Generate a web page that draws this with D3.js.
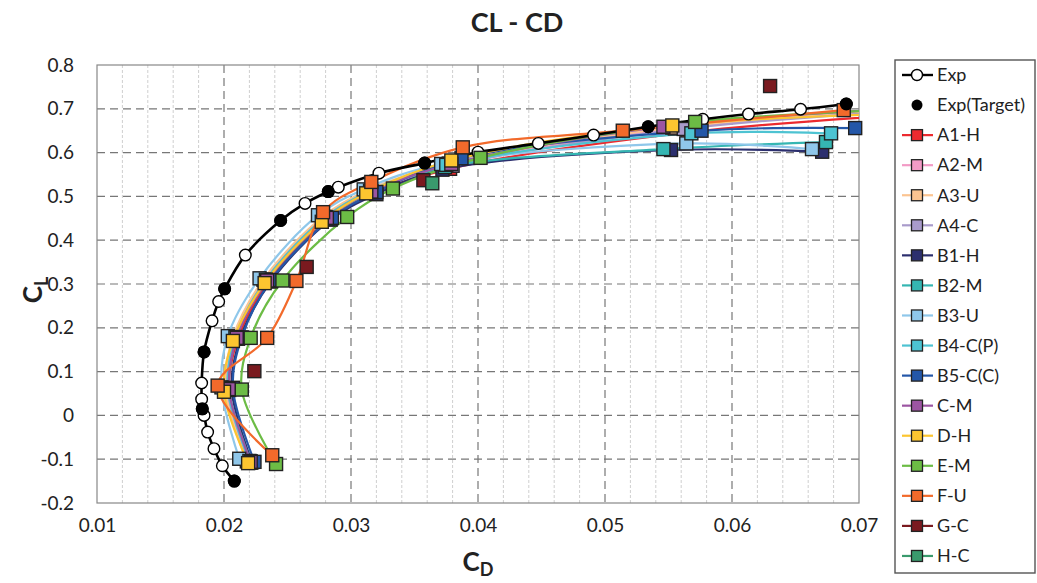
<!DOCTYPE html>
<html>
<head>
<meta charset="utf-8">
<script src="https://cdn.jsdelivr.net/npm/d3@7"></script>
<style>
  body { margin: 0; background: #fff; }
  svg { font-family: Lato, "Open Sans", sans-serif; }
</style>
</head>
<body>
<svg id="chart" width="1037" height="583"></svg>
<script>
// axis ticks
const xTicks = [0.01, 0.02, 0.03, 0.04, 0.05, 0.06, 0.07];
const yTicks = [-0.2, -0.1, 0, 0.1, 0.2, 0.3, 0.4, 0.5, 0.6, 0.7, 0.8];

// experiment (cd, cl)
const expPts = [
  [0.02081, -0.150], [0.01987, -0.115], [0.01921, -0.076], [0.01871, -0.038],
  [0.01843, 0.000], [0.01829, 0.015], [0.01824, 0.037], [0.01824, 0.074],
  [0.01843, 0.145], [0.01906, 0.216], [0.01958, 0.260], [0.02005, 0.289],
  [0.02168, 0.366], [0.02446, 0.445], [0.02638, 0.484], [0.02821, 0.511],
  [0.0290, 0.521], [0.0322, 0.553], [0.0358, 0.576], [0.0400, 0.601],
  [0.04475, 0.621], [0.0491, 0.640], [0.0534, 0.659], [0.0577, 0.676],
  [0.0613, 0.688], [0.0654, 0.699], [0.0690, 0.711]
];
const targetPts = [
  [0.02081, -0.150], [0.01829, 0.015], [0.01843, 0.145], [0.02005, 0.289],
  [0.02446, 0.445], [0.02821, 0.511], [0.0358, 0.576], [0.0534, 0.659], [0.0690, 0.711]
];

// cfd results (cd, cl)
const A1_H = [[0.0221,-0.108],[0.0204,0.058],[0.0211,0.175],[0.0235,0.306],[0.0282,0.448],[0.0318,0.508],[0.0378,0.563],[0.0565,0.646],[0.0745,0.688]];
const A2_M = [[0.0219,-0.106],[0.0202,0.060],[0.0208,0.177],[0.0232,0.309],[0.0279,0.452],[0.0314,0.512],[0.0376,0.572],[0.0555,0.655],[0.0745,0.702]];
const A3_U = [[0.0218,-0.105],[0.0201,0.061],[0.0207,0.178],[0.0231,0.310],[0.0278,0.454],[0.0313,0.514],[0.0377,0.575],[0.0553,0.657],[0.0745,0.700]];
const A4_C = [[0.0220,-0.106],[0.0203,0.059],[0.0209,0.176],[0.0233,0.308],[0.0280,0.451],[0.0316,0.511],[0.0380,0.570],[0.0562,0.654],[0.0745,0.697]];
const B1_H = [[0.0222,-0.107],[0.0206,0.061],[0.0213,0.177],[0.0237,0.306],[0.0284,0.447],[0.0320,0.505],[0.0372,0.561],[0.0552,0.606],[0.0671,0.602]];
const B2_M = [[0.0221,-0.105],[0.0204,0.062],[0.0210,0.178],[0.0234,0.308],[0.0281,0.450],[0.0316,0.510],[0.0374,0.567],[0.0546,0.608],[0.0674,0.624]];
const B3_U = [[0.0212,-0.099],[0.0198,0.064],[0.0203,0.181],[0.0228,0.313],[0.0274,0.457],[0.0310,0.516],[0.0371,0.574],[0.0564,0.621],[0.0663,0.608]];
const B4_CP = [[0.0220,-0.104],[0.0203,0.062],[0.0209,0.179],[0.0233,0.310],[0.0280,0.453],[0.0315,0.513],[0.0375,0.572],[0.0568,0.644],[0.0678,0.644]];
const B5_CC = [[0.0224,-0.106],[0.0207,0.063],[0.0214,0.178],[0.0237,0.309],[0.0285,0.451],[0.0320,0.510],[0.0387,0.587],[0.0576,0.650],[0.0697,0.656]];
const C_M = [[0.0221,-0.106],[0.0204,0.060],[0.0210,0.177],[0.0234,0.308],[0.0281,0.451],[0.0316,0.511],[0.0379,0.574],[0.0546,0.659],[0.0745,0.703]];
const D_H = [[0.0219,-0.109],[0.0200,0.054],[0.0207,0.170],[0.0232,0.302],[0.0277,0.442],[0.0312,0.507],[0.0379,0.582],[0.0553,0.662],[0.0745,0.690]];
const E_M = [[0.0241,-0.111],[0.0214,0.059],[0.0221,0.177],[0.0246,0.308],[0.0297,0.453],[0.0333,0.518],[0.0402,0.588],[0.0571,0.670],[0.0745,0.700]];
const F_U = [[0.0238,-0.091],[0.0195,0.068],[0.0234,0.177],[0.0257,0.307],[0.0278,0.464],[0.0316,0.533],[0.0388,0.612],[0.0514,0.650],[0.0688,0.697]];
const G_C = [[0.02239,0.101],[0.02651,0.339],[0.0357,0.537],[0.0630,0.752]];
const H_C = [[0.0364,0.530]];

const seriesNames = ["A1-H","A2-M","A3-U","A4-C","B1-H","B2-M","B3-U","B4-C(P)","B5-C(C)","C-M","D-H","E-M","F-U","G-C","H-C"];
const seriesColors = ["#ec2a2f","#f29bc6","#fbc491","#a99bcb","#2c2f6e","#35b6b2","#8fc7ea","#4dc3d2","#2457a8","#9c55a2","#fcc530","#6cbc45","#f26a2b","#7a1a1f","#3a9a6d"];
const seriesData = [A1_H, A2_M, A3_U, A4_C, B1_H, B2_M, B3_U, B4_CP, B5_CC, C_M, D_H, E_M, F_U, G_C, H_C];
const seriesHasLine = [true,true,true,true,true,true,true,true,true,true,true,true,true,false,false];

const series = seriesNames.map((name, i) => ({
  name, color: seriesColors[i], pts: seriesData[i], line: seriesHasLine[i]
}));

const svg = d3.select("#chart");
const plot = {left: 97, right: 859, top: 65, bottom: 503};

const x = d3.scaleLinear().domain([0.01, 0.07]).range([plot.left, plot.right]);
const y = d3.scaleLinear().domain([-0.2, 0.8]).range([plot.bottom, plot.top]);

// title
svg.append("text")
  .attr("x", 517).attr("y", 32)
  .attr("text-anchor", "middle")
  .style("font-size", "27px").style("font-weight", "bold")
  .style("fill", "#222")
  .text("CL - CD");

svg.append("defs").append("clipPath").attr("id", "clip")
  .append("rect")
  .attr("x", plot.left).attr("y", plot.top)
  .attr("width", plot.right - plot.left).attr("height", plot.bottom - plot.top);

// minor grid every 0.002
const minor = d3.range(0.012, 0.0699, 0.002).filter(v => Math.abs(v * 100 - Math.round(v * 100)) > 1e-6);
svg.append("g").selectAll("line").data(minor).enter().append("line")
  .attr("x1", d => x(d)).attr("x2", d => x(d))
  .attr("y1", plot.top).attr("y2", plot.bottom)
  .attr("stroke", "#cfcfcf").attr("stroke-width", 1).attr("stroke-dasharray", "3,2");

// major grid
svg.append("g").selectAll("line").data(xTicks.slice(1, -1)).enter().append("line")
  .attr("x1", d => x(d)).attr("x2", d => x(d))
  .attr("y1", plot.top).attr("y2", plot.bottom)
  .attr("stroke", "#777").attr("stroke-width", 1.2).attr("stroke-dasharray", "8,5");
svg.append("g").selectAll("line").data(yTicks.slice(1, -1)).enter().append("line")
  .attr("x1", plot.left).attr("x2", plot.right)
  .attr("y1", d => y(d)).attr("y2", d => y(d))
  .attr("stroke", "#777").attr("stroke-width", 1.2).attr("stroke-dasharray", "8,5");

// frame
svg.append("rect")
  .attr("x", plot.left).attr("y", plot.top)
  .attr("width", plot.right - plot.left).attr("height", plot.bottom - plot.top)
  .attr("fill", "none").attr("stroke", "#888").attr("stroke-width", 1.2);

// axes
const yAxis = svg.append("g")
  .attr("transform", `translate(${plot.left},0)`)
  .call(d3.axisLeft(y).tickValues(yTicks).tickSize(0).tickPadding(23)
    .tickFormat(d => d === 0 ? "0" : String(+d.toFixed(1))));
const xAxis = svg.append("g")
  .attr("transform", `translate(0,${plot.bottom})`)
  .call(d3.axisBottom(x).tickValues(xTicks).tickSize(0).tickPadding(16)
    .tickFormat(d => d.toFixed(2)));
[xAxis, yAxis].forEach(a => {
  a.select(".domain").remove();
  a.selectAll("text").style("font-size", "19px").style("fill", "#222")
    .style("font-family", "Lato, 'Open Sans', sans-serif");
});

// axis titles
const xt = svg.append("text")
  .attr("x", 478).attr("y", 571)
  .attr("text-anchor", "middle")
  .style("font-size", "26px").style("font-weight", "bold").style("fill", "#222");
xt.append("tspan").text("C");
xt.append("tspan").attr("dy", 5).style("font-size", "18px").text("D");

const yt = svg.append("text")
  .attr("transform", "translate(42,290) rotate(-90)")
  .attr("text-anchor", "middle")
  .style("font-size", "26px").style("font-weight", "bold").style("fill", "#222");
yt.append("tspan").text("C");
yt.append("tspan").attr("dy", 6).style("font-size", "18px").text("L");

// lines
const line = d3.line()
  .x(d => x(d[0])).y(d => y(d[1]))
  .curve(d3.curveCatmullRom.alpha(0.5));

const lineG = svg.append("g").attr("clip-path", "url(#clip)");
series.filter(s => s.line).forEach(s => {
  lineG.append("path")
    .datum(s.pts)
    .attr("d", line)
    .attr("fill", "none")
    .attr("stroke", s.color)
    .attr("stroke-width", 2.2);
});
lineG.append("path")
  .datum(expPts)
  .attr("d", line)
  .attr("fill", "none")
  .attr("stroke", "#000")
  .attr("stroke-width", 2.6);

// markers
const inside = d => d[0] <= 0.0705;
const sq = 13;

svg.append("g").selectAll("circle")
  .data(expPts).enter().append("circle")
  .attr("cx", d => x(d[0])).attr("cy", d => y(d[1]))
  .attr("r", 5.8)
  .attr("fill", "#fff").attr("stroke", "#000").attr("stroke-width", 1.4);

series.forEach(s => {
  svg.append("g").selectAll("rect")
    .data(s.pts.filter(inside)).enter().append("rect")
    .attr("x", d => x(d[0]) - sq / 2).attr("y", d => y(d[1]) - sq / 2)
    .attr("width", sq).attr("height", sq)
    .attr("fill", s.color).attr("stroke", "#222").attr("stroke-width", 1.4);
});

svg.append("g").selectAll("circle")
  .data(targetPts).enter().append("circle")
  .attr("cx", d => x(d[0])).attr("cy", d => y(d[1]))
  .attr("r", 6.5)
  .attr("fill", "#000");

// legend
const lg = svg.append("g");
lg.append("rect")
  .attr("x", 895).attr("y", 60).attr("width", 140).attr("height", 513)
  .attr("fill", "#fff").attr("stroke", "#555").attr("stroke-width", 1.4);

const rowY = i => 75 + i * 30.06;
const legText = (i, t) => lg.append("text")
  .attr("x", 937).attr("y", rowY(i)).attr("dy", "0.35em")
  .style("font-size", "18px").style("fill", "#222").text(t);

lg.append("line").attr("x1", 902).attr("x2", 933).attr("y1", rowY(0)).attr("y2", rowY(0))
  .attr("stroke", "#000").attr("stroke-width", 2.4);
lg.append("circle").attr("cx", 917).attr("cy", rowY(0)).attr("r", 5.5)
  .attr("fill", "#fff").attr("stroke", "#000").attr("stroke-width", 1.4);
legText(0, "Exp");

lg.append("circle").attr("cx", 917).attr("cy", rowY(1)).attr("r", 5.5).attr("fill", "#000");
legText(1, "Exp(Target)");

series.forEach((s, i) => {
  const yy = rowY(i + 2);
  lg.append("line").attr("x1", 902).attr("x2", 933).attr("y1", yy).attr("y2", yy)
    .attr("stroke", s.color).attr("stroke-width", 2.2);
  lg.append("rect").attr("x", 917 - 5.5).attr("y", yy - 5.5).attr("width", 11).attr("height", 11)
    .attr("fill", s.color).attr("stroke", "#222").attr("stroke-width", 1.3);
  legText(i + 2, s.name);
});
</script>
</body>
</html>
